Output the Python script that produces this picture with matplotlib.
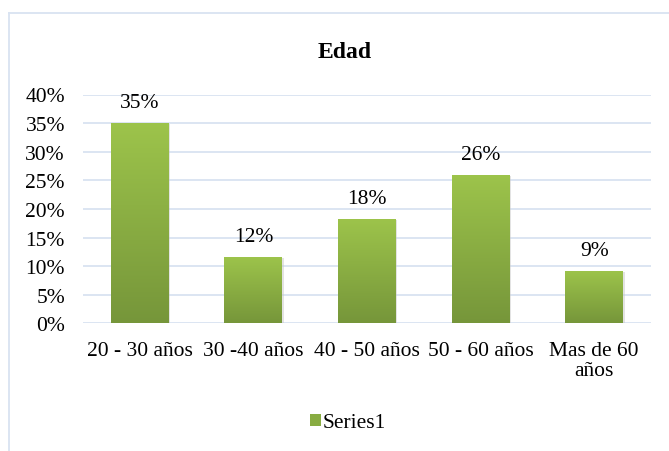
import numpy as np
import matplotlib.pyplot as plt
from matplotlib.lines import Line2D
from matplotlib.patches import Patch
from matplotlib.colors import LinearSegmentedColormap

plt.rcParams['font.family'] = ['Liberation Serif', 'DejaVu Serif']

categories = ['20 - 30 años', '30 -40 años', '40 - 50 años', '50 - 60 años', 'Mas de 60\naños']
values = [0.35, 0.116, 0.182, 0.259, 0.091]
labels = ['35%', '12%', '18%', '26%', '9%']
yticks = [0, 0.05, 0.10, 0.15, 0.20, 0.25, 0.30, 0.35, 0.40]

top_col = '#9dc44b'
bot_col = '#76963a'
grid_col = '#d9e3f1'
fs = 15.5

fig = plt.figure(figsize=(6.69, 4.52), dpi=100)
ax = fig.add_axes([83/669, 1-324.3/452, (651-83)/669, (324.3-95.5)/452])

x = np.arange(len(categories))
bars = ax.bar(x, values, width=0.51, color='none', zorder=3)

cmap = LinearSegmentedColormap.from_list('g', [bot_col, top_col])
grad = np.linspace(0, 1, 256).reshape(-1, 1)
for b, v in zip(bars, values):
    x0 = b.get_x()
    w = b.get_width()
    # soft shadow
    ax.bar(x0 + w/2 + 0.012, v, width=w, bottom=-0.002, color='#c8c8c8', alpha=0.5, zorder=2)
    im = ax.imshow(grad, cmap=cmap, origin='lower', aspect='auto',
                   extent=[x0, x0 + w, 0, v], zorder=4)
    im.set_clip_path(b)

for xi, v, t in zip(x, values, labels):
    ax.annotate(t, (xi, v), xytext=(0, 8), textcoords='offset points',
                ha='center', va='bottom', fontsize=fs, color='#000000', zorder=5)

ax.set_xlim(-0.5, len(categories) - 0.5)
ax.set_ylim(0, 0.40)
ax.set_yticks(yticks)
ax.set_yticklabels([f'{int(round(t*100))}%' for t in yticks], fontsize=fs)
ax.set_xticks(x)
ax.set_xticklabels(categories, fontsize=fs, linespacing=1.05)
ax.tick_params(axis='y', length=0, pad=13)
ax.tick_params(axis='x', length=0, pad=13)
for s in ax.spines.values():
    s.set_visible(False)
ax.yaxis.grid(True, color=grid_col, lw=1.3, zorder=0)
ax.set_axisbelow(True)

fig.text(345/669, 1-53/452, 'Edad', ha='center', va='center', fontsize=17, fontweight='bold')

fig.legend(handles=[Patch(facecolor='#88ac42', edgecolor='none', label='Series1')],
           loc='center', bbox_to_anchor=(348/669, 1-424/452), frameon=False,
           fontsize=fs, handlelength=0.5, handleheight=0.5, handletextpad=0.05)

# chart frame (cropped on the right and bottom)
fig.add_artist(Line2D([9/669, 1], [1-14/452, 1-14/452], color=grid_col, lw=1.3, transform=fig.transFigure))
fig.add_artist(Line2D([9/669, 9/669], [0, 1-14/452], color=grid_col, lw=1.3, transform=fig.transFigure))

fig.savefig('out.png', dpi=100)
